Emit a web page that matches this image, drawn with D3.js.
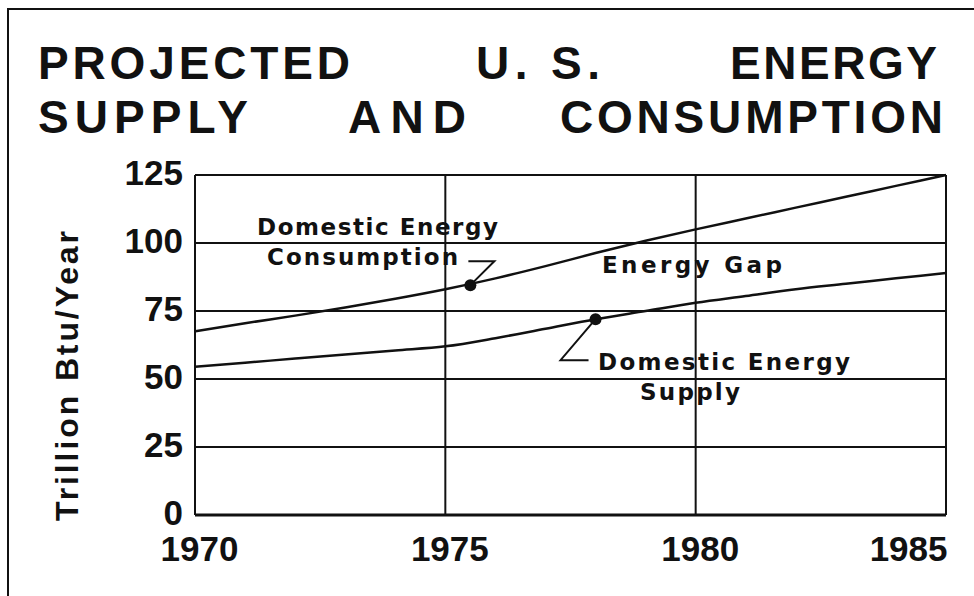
<!DOCTYPE html>
<html>
<head>
<meta charset="utf-8">
<script src="https://cdn.jsdelivr.net/npm/d3@7"></script>
<style>
  body { margin: 0; background: #fff; }
  svg { display: block; }
</style>
</head>
<body>
<script>
// DATA
const YEARS = [1970, 1971, 1972, 1973, 1974, 1975, 1976, 1977, 1978, 1979, 1980, 1981, 1982, 1983, 1984, 1985];
const CONSUMPTION = [67.5, 70.5, 73.3, 76.3, 79.5, 83, 87, 91.5, 96.3, 100.8, 105, 109, 113, 117, 121, 125];
const SUPPLY = [54.5, 56, 57.5, 59, 60.5, 62, 65, 68.5, 72, 75, 78, 80.5, 83, 85, 87, 89];
const X_TICKS = [1970, 1975, 1980, 1985];
const Y_TICKS = [0, 25, 50, 75, 100, 125];
const TITLE_1 = ['PROJECTED', 'U. S.', 'ENERGY'];
const TITLE_2 = ['SUPPLY', 'AND', 'CONSUMPTION'];
const Y_TITLE = 'Trillion Btu/Year';
const CONS_LABEL = ['Domestic Energy', 'Consumption'];
const SUPPLY_LABEL = ['Domestic Energy', 'Supply'];
const GAP_LABEL = 'Energy Gap';
const CONS_MARK = {year: 1975.5, value: 84.5};
const SUPPLY_MARK = {year: 1978, value: 72};

// CONSTANTS
const WIDTH = 974;
const HEIGHT = 596;
const LEFT = 195, RIGHT = 946, TOP = 175, BOTTOM = 515;
const INK = '#111';
const HELV = '"Liberation Sans", Arial, sans-serif';
const ROUND = '"DejaVu Sans", sans-serif';

const svg = d3.select('body').append('svg')
  .attr('width', WIDTH)
  .attr('height', HEIGHT);

const x = d3.scaleLinear().domain([1970, 1985]).range([LEFT, RIGHT]);
const y = d3.scaleLinear().domain([0, 125]).range([BOTTOM, TOP]);

// OUTER FRAME (only top and left edges show)
svg.append('path')
  .attr('d', 'M8,' + HEIGHT + 'V9H' + WIDTH)
  .attr('fill', 'none')
  .attr('stroke', INK)
  .attr('stroke-width', 2);

// TITLE - justified words
const titleSpots = [
  [{x: 38, w: 312}, {x: 476, w: 124}, {x: 730, w: 207}],
  [{x: 38, w: 210}, {x: 348, w: 118}, {x: 560, w: 383}]
];
[TITLE_1, TITLE_2].forEach((words, row) => {
  words.forEach((w, i) => {
    svg.append('text')
      .attr('x', titleSpots[row][i].x)
      .attr('y', 79 + row * 54)
      .attr('textLength', titleSpots[row][i].w)
      .attr('lengthAdjust', 'spacing')
      .style('font-family', HELV)
      .style('font-weight', 'bold')
      .style('font-size', '46px')
      .attr('fill', INK)
      .text(w);
  });
});

// GRID
const grid = svg.append('g').attr('stroke', INK).attr('stroke-width', 2);
grid.selectAll('line.h')
  .data(Y_TICKS)
  .enter().append('line')
  .attr('x1', LEFT).attr('x2', RIGHT)
  .attr('y1', d => y(d)).attr('y2', d => y(d))
  .attr('stroke-width', d => d === 0 ? 3 : 2);
grid.selectAll('line.v')
  .data(X_TICKS)
  .enter().append('line')
  .attr('x1', d => x(d)).attr('x2', d => x(d))
  .attr('y1', TOP).attr('y2', BOTTOM);

// AXES (labels only)
const yAxis = svg.append('g')
  .attr('transform', 'translate(' + (LEFT - 12) + ',0)')
  .call(d3.axisLeft(y).tickValues(Y_TICKS).tickSize(0).tickPadding(0));
yAxis.select('.domain').remove();
yAxis.selectAll('text')
  .attr('dy', '0.27em')
  .style('font-family', HELV)
  .style('font-weight', 'bold')
  .style('font-size', '35px')
  .attr('fill', INK);

const xAxis = svg.append('g')
  .attr('transform', 'translate(0,' + BOTTOM + ')')
  .call(d3.axisBottom(x).tickValues(X_TICKS).tickFormat(d3.format('d')).tickSize(0).tickPadding(0));
xAxis.select('.domain').remove();
xAxis.selectAll('text')
  .attr('y', 46)
  .attr('dy', 0)
  .attr('x', d => d === 1985 ? 1 : 4)
  .attr('text-anchor', d => d === 1985 ? 'end' : 'middle')
  .style('font-family', HELV)
  .style('font-weight', 'bold')
  .style('font-size', '35px')
  .attr('fill', INK);

// Y TITLE
svg.append('text')
  .attr('transform', 'translate(78,376) rotate(-90)')
  .attr('text-anchor', 'middle')
  .attr('textLength', 290)
  .attr('lengthAdjust', 'spacing')
  .style('font-family', HELV)
  .style('font-weight', 'bold')
  .style('font-size', '32px')
  .attr('fill', INK)
  .text(Y_TITLE);

// LINES
const line = d3.line()
  .x((d, i) => x(YEARS[i]))
  .y(d => y(d))
  .curve(d3.curveMonotoneX);

[CONSUMPTION, SUPPLY].forEach(series => {
  svg.append('path')
    .datum(series)
    .attr('d', line)
    .attr('fill', 'none')
    .attr('stroke', INK)
    .attr('stroke-width', 2.5);
});

// MARKERS + LEADERS
[CONS_MARK, SUPPLY_MARK].forEach(m => {
  svg.append('circle')
    .attr('cx', x(m.year))
    .attr('cy', y(m.value))
    .attr('r', 6)
    .attr('fill', INK);
});

const cx = x(CONS_MARK.year), cy = y(CONS_MARK.value);
svg.append('path')
  .attr('d', 'M' + (cx - 2) + ',' + (cy - 24) + 'H' + (cx + 24) + 'L' + cx + ',' + cy)
  .attr('fill', 'none')
  .attr('stroke', INK)
  .attr('stroke-width', 2);

const sx = x(SUPPLY_MARK.year), sy = y(SUPPLY_MARK.value);
svg.append('path')
  .attr('d', 'M' + sx + ',' + sy + 'L' + (sx - 35) + ',' + (sy + 41) + 'H' + (sx - 7))
  .attr('fill', 'none')
  .attr('stroke', INK)
  .attr('stroke-width', 2);

// ANNOTATION TEXT
function note(str, px, py, len) {
  svg.append('text')
    .attr('x', px)
    .attr('y', py)
    .attr('textLength', len)
    .attr('lengthAdjust', 'spacing')
    .style('font-family', ROUND)
    .style('font-weight', 'bold')
    .style('font-size', '23px')
    .attr('fill', INK)
    .text(str);
}
note(CONS_LABEL[0], 257, 235, 241);
note(CONS_LABEL[1], 267, 265, 191);
note(GAP_LABEL, 602, 273, 180);
note(SUPPLY_LABEL[0], 598, 370, 252);
note(SUPPLY_LABEL[1], 640, 400, 100);
</script>
</body>
</html>
